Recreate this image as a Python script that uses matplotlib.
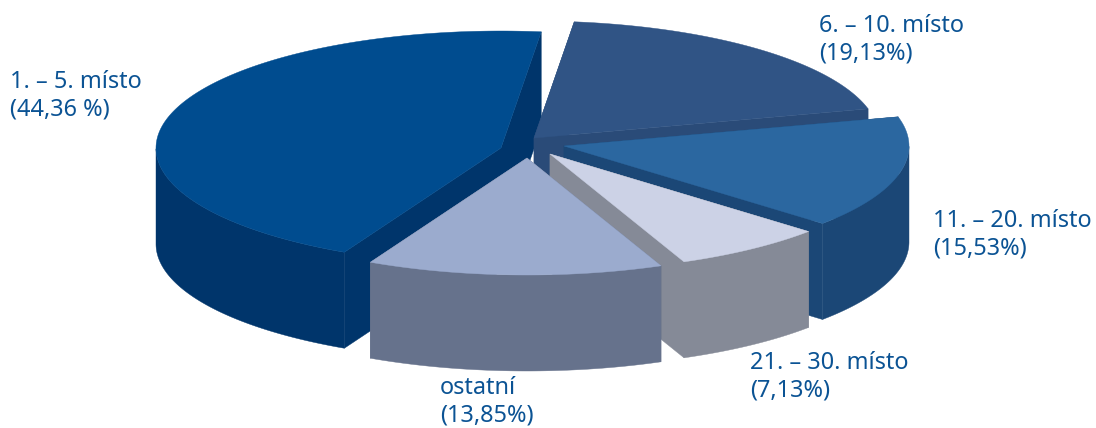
import numpy as np
import matplotlib
matplotlib.use("Agg")
import matplotlib.pyplot as plt
from matplotlib.patches import Polygon

# Data
categories = ["6. – 10. místo", "11. – 20. místo", "21. – 30. místo", "ostatní", "1. – 5. místo"]
values = [19.13, 15.53, 7.13, 13.85, 44.36]
value_labels = ["(19,13%)", "(15,53%)", "(7,13%)", "(13,85%)", "(44,36 %)"]

# Styles and layout
top_colors = ["#305485", "#2b67a0", "#ccd2e6", "#9babce", "#004c8f"]
side_colors = ["#2a4b78", "#1b4776", "#858a97", "#66728c", "#00356b"]
apexes = [(534, 138), (564, 146), (550, 154), (527, 158), (501, 148)]
label_pos = [(819, 14), (933, 209), (750, 351), (440, 376), (10, 70)]
draw_order = [4, 0, 1, 2, 3]
RX, RY, DEPTH = 345, 117, 96
START = 83.3
TEXT = "#0b5394"

plt.rcParams["font.family"] = ["Noto Sans", "DejaVu Sans"]
fig = plt.figure(figsize=(10.96, 4.28), dpi=100)
ax = fig.add_axes([0, 0, 1, 1])
ax.set_xlim(0, 1096)
ax.set_ylim(428, 0)
ax.axis("off")


def rim(apex, a):
    a = np.radians(a)
    return np.column_stack((apex[0] + RX * np.cos(a), apex[1] - RY * np.sin(a)))


def poly(points, color, z):
    ax.add_patch(Polygon(points, closed=True, facecolor=color, edgecolor=color,
                         linewidth=0.3, zorder=z))


# Angular spans are taken from the values, clockwise from START
spans = np.array(values) / sum(values) * 360
ends = START - np.cumsum(spans)
starts = ends + spans
down = np.array([0, DEPTH])

for rank, i in enumerate(draw_order):
    z = 2 + rank * 3
    apex = np.array(apexes[i], dtype=float)
    a = np.linspace(starts[i], ends[i], 200)
    arc = rim(apex, a)
    # cut faces
    for edge in (arc[0], arc[-1]):
        poly([apex, edge, edge + down, apex + down], side_colors[i], z)
    # outer wall: front-facing part of the rim only
    s = np.sin(np.radians(a)) <= 0
    if s.any():
        wall = arc[s]
        poly(np.vstack((wall, (wall + down)[::-1])), side_colors[i], z + 1)
    # top
    poly(np.vstack((apex, arc)), top_colors[i], z + 2)

for name, val, (x, y) in zip(categories, value_labels, label_pos):
    ax.text(x, y, f"{name}\n{val}", color=TEXT, fontsize=16.9, ha="left", va="top",
            linespacing=1.2, zorder=50)

fig.savefig("out.png", dpi=100)
